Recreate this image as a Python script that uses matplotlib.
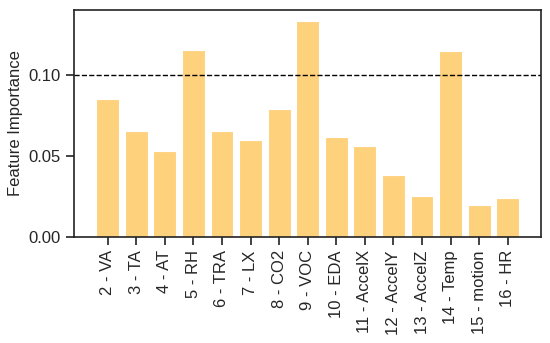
import matplotlib
matplotlib.use("Agg")
import matplotlib.pyplot as plt
import seaborn as sns

# adatok
features = ["2 - VA", "3 - TA", "4 - AT", "5 - RH", "6 - TRA", "7 - LX", "8 - CO2",
            "9 - VOC", "10 - EDA", "11 - AccelX", "12 - AccelY", "13 - AccelZ",
            "14 - Temp", "15 - motion", "16 - HR"]
importance = [0.0854, 0.0656, 0.0533, 0.1154, 0.0656, 0.0599, 0.0788,
              0.1329, 0.0619, 0.0564, 0.0383, 0.0255, 0.1144, 0.0196, 0.0241]
threshold = 0.10

sns.set_style("ticks")
plt.rcParams['font.family'] = ['Liberation Sans', 'DejaVu Sans']

fig, ax = plt.subplots(figsize=(5.5, 3.43), dpi=100)
fig.subplots_adjust(left=0.135, right=0.984, top=0.971, bottom=0.309)

ax.bar(range(len(features)), importance, width=0.8, color="#fed17c", edgecolor="white", linewidth=0.8)
ax.axhline(threshold, color="black", linestyle="--", linewidth=1)

ax.set_xticks(range(len(features)))
ax.set_xticklabels(features, rotation=90, fontsize=12)
ax.set_ylim(0, 0.14)
ax.set_yticks([0.0, 0.05, 0.10])
ax.set_yticklabels(["0.00", "0.05", "0.10"], fontsize=12)
ax.set_ylabel("Feature Importance", fontsize=12)
ax.set_xlim(-1.17, len(features) - 1 + 1.17)

for s in ax.spines.values():
    s.set_linewidth(1.2)
    s.set_color("#222222")
ax.tick_params(width=1.2, length=6, color="#222222")

fig.savefig("out.png", dpi=100)
